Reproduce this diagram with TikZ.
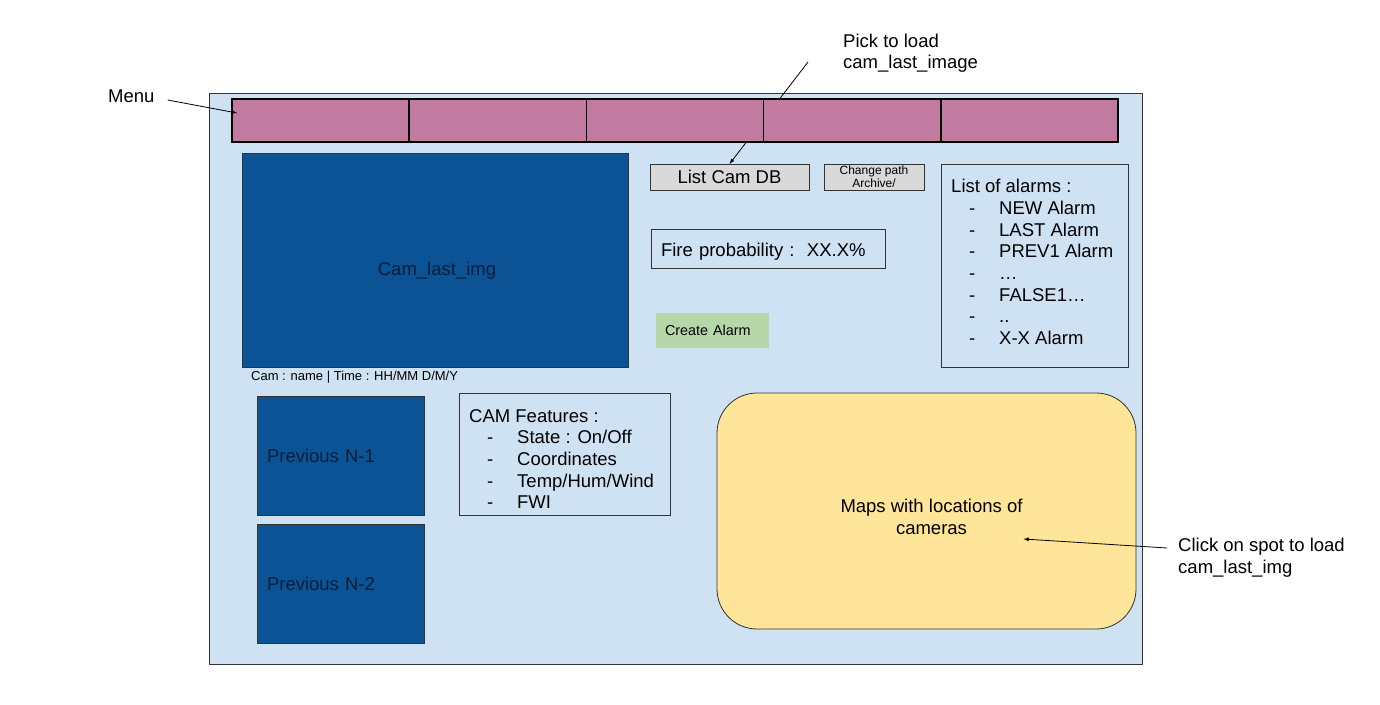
\documentclass[tikz,border=0pt]{standalone}
\usepackage{fontspec}
\setmainfont{Liberation Sans}
\usetikzlibrary{positioning}
\definecolor{paneblue}{HTML}{CFE2F3}
\definecolor{menupink}{HTML}{C27BA0}
\definecolor{camblue}{HTML}{0B5394}
\definecolor{navytext}{HTML}{0A1E3C}
\definecolor{btngray}{HTML}{D9D9D9}
\definecolor{alarmgreen}{HTML}{B6D7A8}
\definecolor{mapyellow}{HTML}{FFE599}
\newcommand{\dashitem}[1]{\hspace*{18pt}\makebox[30pt][l]{-}#1}
\begin{document}
\begin{tikzpicture}[x=1pt,y=-1pt]
\tikzstyle{panel}=[draw=black!80, line width=0.8pt, inner sep=0pt, outer sep=0pt, anchor=north west]
\tikzstyle{tab}=[panel, draw=black, line width=1.6pt, fill=menupink, minimum width=177.2pt, minimum height=43pt]
\tikzstyle{txt}=[inner sep=0pt, align=left, font=\fontsize{18.5}{21.7}\selectfont]
\tikzstyle{img}=[panel, txt, fill=camblue, text=navytext, minimum width=167pt, minimum height=119pt, text width=147pt, inner xsep=10pt]
\tikzstyle{btn}=[panel, fill=btngray, minimum height=26pt]
\tikzstyle{connect}=[-latex, line width=0.8pt]
\useasboundingbox (0,0) rectangle (1380,704);
\node[panel, fill=paneblue, minimum width=933pt, minimum height=571pt] (frame) at (209,93) {};
\node[txt, anchor=west] (menulbl) at (108,96) {Menu};
\node[txt, anchor=north west, font=\fontsize{18.5}{21}\selectfont] (picklbl) at (843,34) {Pick to load\\cam\_last\_image};
\node[btn, txt, minimum width=159pt] (listdb) at (650,164) {List Cam DB};
\draw[connect] ([shift={(-35,28)}]picklbl.north west) -- (listdb.north);
\node[tab] (tab1) at (232,99) {};
\node[tab, right=0pt of tab1] (tab2) {};
\node[tab, right=0pt of tab2] (tab3) {};
\node[tab, right=0pt of tab3] (tab4) {};
\node[tab, right=0pt of tab4] (tab5) {};
\draw[connect] ([shift={(13,4)}]menulbl.east) -- ([shift={(5,14)}]tab1.north west);
\node[btn, minimum width=100pt, align=center, font=\fontsize{12}{13}\selectfont] (chpath) at (824,164) {Change path\\Archive/};
\node[panel, fill=camblue, minimum width=386pt, minimum height=214pt] (camimg) at (242,153) {};
\node[txt, text=navytext] (camlbl) at ([shift={(2,11)}]camimg.center) {Cam\_last\_img};
\node[txt, anchor=north west, font=\fontsize{13}{15}\selectfont] (camcap) at ([shift={(9,4)}]camimg.south west) {Cam : name | Time : HH/MM D/M/Y};
\node[img] (prev1) at (257,396) {Previous N-1};
\node[img, below=9pt of prev1] (prev2) {Previous N-2};
\node[panel, minimum width=211pt, minimum height=122pt] (feat) at (459,393) {};
\node[txt, anchor=north west] (feattxt) at ([shift={(10,16)}]feat.north west) {CAM Features :\\
  \dashitem{State : On/Off}\\ \dashitem{Coordinates}\\ \dashitem{Temp/Hum/Wind}\\ \dashitem{FWI}};
\node[panel, txt, minimum width=234pt, minimum height=39pt, text width=214pt, inner xsep=10pt, text height=16pt, text depth=0pt] (fireprob) at (651,229) {Fire probability :\ \ XX.X\%};
\node[panel, draw=none, fill=alarmgreen, minimum width=113pt, minimum height=35pt, text width=95pt, inner xsep=9pt, align=left, font=\fontsize{14.4}{17}\selectfont] (mkalarm) at (656,313) {Create Alarm};
\node[panel, minimum width=187pt, minimum height=203pt] (alarms) at (941,164) {};
\node[txt, anchor=north west] (alarmtxt) at ([shift={(10,15)}]alarms.north west) {List of alarms :\\
  \dashitem{NEW Alarm}\\ \dashitem{LAST Alarm}\\ \dashitem{PREV1 Alarm}\\ \dashitem{\dots}\\
  \dashitem{FALSE1\dots}\\ \dashitem{..}\\ \dashitem{X-X Alarm}};
\node[panel, rounded corners=40pt, fill=mapyellow, minimum width=419pt, minimum height=236pt] (maps) at (717,393) {};
\node[txt, align=center] (mapslbl) at ([shift={(5,6)}]maps.center) {Maps with locations of\\cameras};
\node[txt, anchor=north west] (clicklbl) at (1178,538) {Click on spot to load\\cam\_last\_img};
\draw[connect] ([shift={(-11,10)}]clicklbl.north west) -- ([shift={(97,28)}]maps.center);
\end{tikzpicture}
\end{document}
